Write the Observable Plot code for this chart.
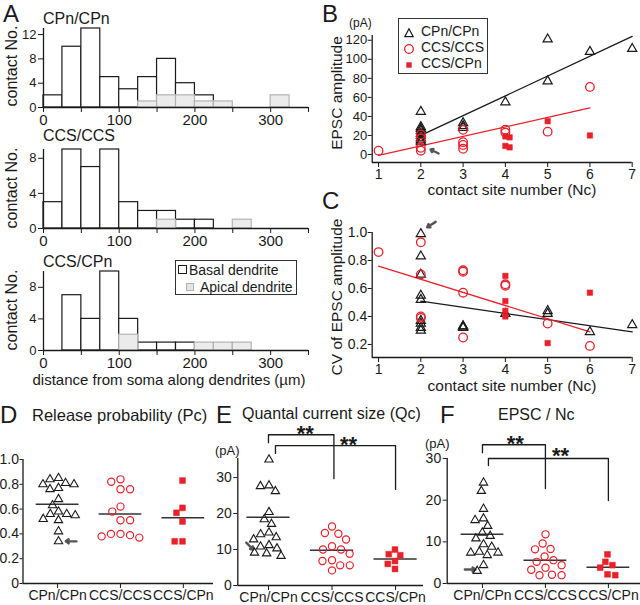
<!DOCTYPE html>
<html><head><meta charset="utf-8">
<script src="https://cdn.jsdelivr.net/npm/d3@7"></script>
<script src="https://cdn.jsdelivr.net/npm/@observablehq/plot@0.6"></script>
<style>
html,body{margin:0;padding:0;background:#fff;}
#fig{position:relative;width:640px;height:605px;overflow:hidden;font-family:"Liberation Sans",Arial,Helvetica,sans-serif;color:#1a1a1a;}
.layer{position:absolute;}
.layer svg{overflow:visible;}
.t{position:absolute;white-space:nowrap;line-height:1;}
.box{position:absolute;border:1px solid #333;box-sizing:border-box;background:#fff;}
</style></head><body><div id="fig"></div>
<script>
// ================= DATA =================
// Panel A: histograms of contact distance (25 µm bins)
const binStart = [0,25,50,75,100,125,150,175,200,225,250,275,300,325];
const binWidth = 25;
const histNames = ["CPn/CPn","CCS/CCS","CCS/CPn"];
const basalCPnCPn  = [2,10,13,5,3,5,8,4,2,0,0,0,0,0];
const apicalCPnCPn = [0,0,0,0,0,1,2,2,1,1,0,0,2,0];
const basalCCSCCS  = [3,9,7,9,3,2,2,1,1,0,0,0,0,0];
const apicalCCSCCS = [0,0,0,0,0,0,1,0,0,0,1,0,0,0];
const basalCCSCPn  = [0,7,4,10,4,1,1,1,0,0,0,0,0,0];
const apicalCCSCPn = [0,0,0,0,2,0,0,0,1,1,1,0,0,0];
const histXTicks = [0,50,100,150,200,250,300,350];
const histYTicks = [[0,4,8,12],[0,4,8],[0,4,8]];
const legendA = ["Basal dendrite","Apical dendrite"];

// Panel B: EPSC amplitude vs contact site number
const ncCPn    = [2,2,2,2,2,2,2,2,2,3,3,3,4,5,5,6,7];
const epscCPn  = [45,29,27,25,22,20,17,15,13,33,30,28,55,121,77,108,111];
const ncCCS    = [1,2,2,2,2,3,3,3,3,4,4,5,6];
const epscCCS  = [4,21,17,7,4,26,13,10,6,26,23,24,71];
const ncCCSCPnB   = [4,4.1,4,4.1,5,6];
const epscCCSCPn  = [19,18,9,7.5,35,20];
const fitEpscCPn  = [[2,20],[7,124]];
const fitEpscCCS  = [[1,-1],[6,49]];
const ticksB = [0,20,40,60,80,100,120];
const ncTicks = [1,2,3,4,5,6,7];
const legendB = ["CPn/CPn","CCS/CCS","CCS/CPn"];

// Panel C: CV of EPSC amplitude
const ncCPnC   = [2,2,2,2,2,2,2,2,2,3,3,3,4,5,5,6,7];
const cvCPn    = [0.99,0.83,0.70,0.55,0.52,0.37,0.35,0.32,0.30,0.33,0.32,0.33,0.42,0.44,0.42,0.29,0.34];
const ncCCSC   = [1,2,2,2,2,3,3,3,3,4,4,5,6];
const cvCCS    = [0.86,0.93,0.70,0.40,0.39,0.73,0.72,0.57,0.25,0.63,0.62,0.35,0.19];
const ncCCSCPnC = [4,4,4,4,5,6];
const cvCCSCPn  = [0.69,0.51,0.44,0.40,0.21,0.57];
const fitCvCPn  = [[2,0.51],[7,0.29]];
const fitCvCCS  = [[1,0.76],[6,0.29]];
const ticksC = [0.2,0.4,0.6,0.8,1.0];

// Panels D–F: per-pair values
const groups = ["CPn/CPn","CCS/CCS","CCS/CPn"];
const pcCPn    = [0.85,0.84,0.81,0.80,0.80,0.77,0.76,0.68,0.63,0.58,0.56,0.56,0.55,0.52,0.51,0.42,0.34];
const pcCCS    = [0.84,0.82,0.76,0.76,0.62,0.58,0.51,0.51,0.40,0.40,0.39,0.38,0.37];
const pcCCSCPn = [0.83,0.61,0.57,0.50,0.34,0.34];
const meanPc   = [0.64,0.56,0.53];
const qcCPn    = [35,27.8,27.6,26.2,20.4,18.4,17.1,14.7,14.2,13.4,12.8,11.2,10.8,10.3,9.1,8.9,8.2];
const qcCCS    = [16.4,14.6,14.4,12.8,10.9,10.0,10.0,8.8,7.0,6.8,5.6,5.6,4.2];
const qcCCSCPn = [10.0,8.7,8.4,6.8,6.0,4.6];
const meanQc   = [19.0,9.8,7.4];
const fCPn     = [24.2,22.2,17.9,15.6,15.2,13.8,12.2,11.4,10.8,9.4,8.8,7.6,7.4,7.4,6.8,4.4,3.0];
const fCCS     = [11.8,9.6,8.3,8.2,6.5,5.6,5.2,4.4,3.8,3.3,2.1,2.0,2.0];
const fCCSCPn  = [7.0,5.2,4.4,3.8,2.2,2.0];
const meanF    = [11.8,5.6,3.9];
const ticksD = [0,0.2,0.4,0.6,0.8,1.0];
const ticksEF = [0,10,20,30];
// significance brackets (x in group index units, y in data units)
const sigE = [{id:1,a:0,b:1.03,top:41.9,endA:39.7,endB:29.7,lx:0.58,ly:43.8,label:"**"},
              {id:2,a:0.11,b:2,top:38.9,endA:36.7,endB:26.7,lx:1.26,ly:40.6,label:"**"}];
const sigF = [{id:1,a:0,b:1,top:33.3,endA:31.4,endB:22.8,lx:0.52,ly:34.9,label:"**"},
              {id:2,a:0.095,b:2,top:30.0,endA:28.3,endB:19.9,lx:1.24,ly:32.0,label:"**"}];
// arrow annotations (tail -> head)
const arrowB = [{x1:2.42,y1:1.1,x2:2.23,y2:5.3}];
const arrowC = [{x1:2.35,y1:1.076,x2:2.15,y2:1.038}];
const arrowD = [{x1:0.30,y1:0.34,x2:0.13,y2:0.34}];
const arrowE = [{x1:-0.35,y1:11.9,x2:-0.24,y2:10.0}];
const arrowF = [{x1:-0.28,y1:3.36,x2:-0.11,y2:3.36}];

// ================= STYLE =================
const FONT = '"Liberation Sans", Arial, Helvetica, sans-serif';
const INK = "#1a1a1a";
const RED = "#e8202a";
const GREY = "#555";
const fig = document.getElementById("fig");
const baseStyle = {fontFamily: FONT, fontSize: "14px", color: INK, background: "transparent", overflow: "visible"};

function addPlot(svg, left, top) {
  const d = document.createElement("div");
  d.className = "layer"; d.style.left = left + "px"; d.style.top = top + "px";
  d.appendChild(svg); fig.appendChild(d);
}
function label(text, x, y, size, opt = {}) {
  const d = document.createElement("div");
  d.className = "t"; d.textContent = text;
  d.style.left = x + "px"; d.style.top = y + "px"; d.style.fontSize = size + "px";
  if (opt.weight) d.style.fontWeight = opt.weight;
  const tx = opt.anchor === "middle" ? "-50%" : opt.anchor === "end" ? "-100%" : "0";
  d.style.transform = `translate(${tx},-50%)` + (opt.rotate ? ` rotate(${opt.rotate}deg)` : "");
  fig.appendChild(d);
  return d;
}

// ================= PANEL A =================
const histData = [
  [basalCPnCPn, apicalCPnCPn],
  [basalCCSCCS, apicalCCSCCS],
  [basalCCSCPn, apicalCCSCPn]
];
const histTops = [0, 121, 243];
histData.forEach(([basal, apical], k) => {
  const rows = binStart.map((s, i) => ({x1: s, x2: s + binWidth, basal: basal[i], apical: apical[i]}));
  const ymax = d3.max(rows, d => Math.max(d.basal, d.apical));
  const svg = Plot.plot({
    width: 330, height: 125, marginLeft: 43, marginRight: 22, marginTop: 28, marginBottom: 18,
    x: {domain: [0, 350]}, y: {domain: [0, ymax]},
    style: baseStyle,
    marks: [
      Plot.rect(rows.filter(d => d.basal > 0), {x1: "x1", x2: "x2", y1: 0, y2: "basal", fill: "white", stroke: INK, strokeWidth: 1.2}),
      Plot.rect(rows.filter(d => d.apical > 0), {x1: "x1", x2: "x2", y1: 0, y2: "apical", fill: "#ebebeb", stroke: "#b3b3b3", strokeWidth: 1.2}),
      Plot.ruleY([0], {stroke: INK, strokeWidth: 1.3}),
      Plot.ruleX([0], {stroke: INK, strokeWidth: 1.3}),
      Plot.axisX({ticks: histXTicks, tickFormat: d => d % 100 === 0 ? String(d) : "", tickSize: 5, tickPadding: 2, fontSize: 15, label: null}),
      Plot.axisY({ticks: histYTicks[k], tickSize: 5, tickPadding: 2, fontSize: 13, label: null})
    ]
  });
  addPlot(svg, 0, histTops[k]);
});
label("A", 3, 14, 24);
label(histNames[0], 43, 19, 16);
label(histNames[1], 43, 136, 16);
label(histNames[2], 43, 262, 16);
[66, 188, 310].forEach(cy => label("contact No.", 12, cy, 16, {anchor: "middle", rotate: -90}));
label("distance from soma along dendrites (µm)", 169, 379, 15, {anchor: "middle"});
// legend A
{
  const box = document.createElement("div");
  box.className = "box";
  Object.assign(box.style, {left: "175px", top: "260px", width: "122px", height: "35px"});
  fig.appendChild(box);
  const s1 = document.createElement("div");
  Object.assign(s1.style, {position: "absolute", left: "178px", top: "265px", width: "9px", height: "9px", border: "1.2px solid " + INK, boxSizing: "border-box", background: "#fff"});
  fig.appendChild(s1);
  const s2 = document.createElement("div");
  Object.assign(s2.style, {position: "absolute", left: "186px", top: "283px", width: "8px", height: "8px", border: "1px solid #b3b3b3", boxSizing: "border-box", background: "#e4e4e4"});
  fig.appendChild(s2);
  label(legendA[0], 189, 270, 14);
  label(legendA[1], 200, 287, 14);
}

// ================= PANEL B & C =================
function scatterPanel({top, mT, mB, yDomain, yTicks, yFmt, yFont, cpn, ccs, mix, fitA, fitB, arrow}) {
  const xDomain = [0.85, 7];
  const svg = Plot.plot({
    width: 310, height: 200, marginLeft: 41.7, marginRight: 8.3, marginTop: mT, marginBottom: mB,
    x: {domain: xDomain}, y: {domain: yDomain},
    style: baseStyle,
    marks: [
      Plot.ruleX([xDomain[0]], {stroke: INK, strokeWidth: 1.3}),
      Plot.ruleY([yDomain[0]], {stroke: INK, strokeWidth: 1.3}),
      Plot.axisX({ticks: ncTicks, tickFormat: d => String(d), tickSize: 5, tickPadding: 2, fontSize: 14, label: null}),
      Plot.axisY({ticks: yTicks, tickFormat: yFmt, tickSize: 4, tickPadding: 1, fontSize: yFont, label: null}),
      Plot.line(fitA, {x: d => d[0], y: d => d[1], stroke: INK, strokeWidth: 1.3}),
      Plot.line(fitB, {x: d => d[0], y: d => d[1], stroke: RED, strokeWidth: 1.3}),
      Plot.dot(cpn, {x: "x", y: "y", symbol: "triangle", r: 3.4, stroke: INK, fill: "none", strokeWidth: 1.2}),
      Plot.dot(ccs, {x: "x", y: "y", symbol: "circle", r: 4.3, stroke: RED, fill: "none", strokeWidth: 1.3}),
      Plot.dot(mix, {x: "x", y: "y", symbol: "square", r: 3.1, fill: RED, stroke: RED, strokeWidth: 0.5}),
      Plot.arrow(arrow, {x1: "x1", y1: "y1", x2: "x2", y2: "y2", stroke: GREY, strokeWidth: 2.4, headLength: 6, headAngle: 70})
    ]
  });
  addPlot(svg, 330, top);
}
const zipXY = (xs, ys) => xs.map((x, i) => ({x, y: ys[i]}));
scatterPanel({top: 0, mT: 35, mB: 38, yDomain: [-8.4, 125], yTicks: ticksB, yFmt: d => String(d), yFont: 13,
  cpn: zipXY(ncCPn, epscCPn), ccs: zipXY(ncCCS, epscCCS), mix: zipXY(ncCCSCPnB, epscCCSCPn),
  fitA: fitEpscCPn, fitB: fitEpscCCS, arrow: arrowB});
scatterPanel({top: 200, mT: 32, mB: 43, yDomain: [0.107, 1.0], yTicks: ticksC, yFmt: d => d.toFixed(1), yFont: 14,
  cpn: zipXY(ncCPnC, cvCPn), ccs: zipXY(ncCCSC, cvCCS), mix: zipXY(ncCCSCPnC, cvCCSCPn),
  fitA: fitCvCPn, fitB: fitCvCCS, arrow: arrowC});
label("B", 322, 14, 24);
label("C", 322, 201, 24);
label("(pA)", 349, 23, 12);
label("EPSC amplitude", 337, 93, 15.5, {anchor: "middle", rotate: -90});
label("CV of EPSC amplitude", 337, 297, 15.5, {anchor: "middle", rotate: -90});
label("contact site number (Nc)", 512, 190, 15.5, {anchor: "middle"});
label("contact site number (Nc)", 512, 386, 15.5, {anchor: "middle"});
// legend B
{
  const box = document.createElement("div");
  box.className = "box";
  Object.assign(box.style, {left: "398px", top: "18px", width: "90px", height: "56px", border: "1.2px solid #333"});
  fig.appendChild(box);
  const icons = [
    `<polygon points="6,1.8 10.2,9.6 1.8,9.6" fill="none" stroke="${INK}" stroke-width="1.2"/>`,
    `<circle cx="6" cy="6" r="4.3" fill="none" stroke="${RED}" stroke-width="1.3"/>`,
    `<rect x="3.3" y="3.3" width="5.4" height="5.4" fill="${RED}"/>`
  ];
  const ys = [30.5, 46.7, 63.3];
  icons.forEach((ic, i) => {
    const d = document.createElement("div");
    Object.assign(d.style, {position: "absolute", left: "403px", top: (ys[i] - 6) + "px", width: "12px", height: "12px"});
    d.innerHTML = `<svg width="12" height="12" viewBox="0 0 12 12">${ic}</svg>`;
    fig.appendChild(d);
    label(legendB[i], 421, ys[i], 14);
  });
}

// ================= PANELS D, E, F =================
function catPanel({left, width, mL, mR, mT, mB, xDomain, yDomain, yTicks, yFmt, vals, means, sig, arrow, yTickSize = 4, yTickPad = 2}) {
  const height = 205, top = 400;
  const meanRows = groups.map((g, i) => ({i, m: means[i]}));
  const marks = [
    Plot.ruleY([yDomain[0]], {stroke: INK, strokeWidth: 1.3}),
    Plot.ruleX([xDomain[0]], {stroke: INK, strokeWidth: 1.3}),
    Plot.axisY({ticks: yTicks, tickFormat: yFmt, tickSize: yTickSize, tickPadding: yTickPad, fontSize: 14, label: null}),
    Plot.axisX({ticks: [0, 1, 2], tickFormat: i => groups[i], tickSize: 5, tickPadding: 2, fontSize: 14, label: null}),
    Plot.ruleY(meanRows, {x1: d => d.i - 0.34, x2: d => d.i + 0.34, y: "m", stroke: "#333", strokeWidth: 1.5}),
    Plot.arrow(arrow, {x1: "x1", y1: "y1", x2: "x2", y2: "y2", stroke: GREY, strokeWidth: 2.4, headLength: 6, headAngle: 70})
  ];
  if (sig) {
    const pts = sig.flatMap(s => [
      {id: s.id, x: s.a, y: s.endA}, {id: s.id, x: s.a, y: s.top},
      {id: s.id, x: s.b, y: s.top}, {id: s.id, x: s.b, y: s.endB}
    ]);
    marks.push(Plot.line(pts, {x: "x", y: "y", z: "id", stroke: INK, strokeWidth: 1.3}));
    marks.push(Plot.text(sig, {x: "lx", y: "ly", text: "label", fontSize: 22, fontWeight: "bold", dy: 6, fill: INK}));
  }
  const base = Plot.plot({
    width, height, marginLeft: mL, marginRight: mR, marginTop: mT, marginBottom: mB,
    x: {domain: xDomain}, y: {domain: yDomain}, style: baseStyle, marks
  });
  addPlot(base, left, top);
  // dots layer, faceted by group so that dodge positions them in each band
  const unit = (width - mL - mR) / (xDomain[1] - xDomain[0]);
  const mL2 = mL + (-0.5 - xDomain[0]) * unit;
  const mR2 = width - (mL + (2.5 - xDomain[0]) * unit);
  const rowsOf = i => vals[i].map(v => ({group: groups[i], v}));
  const dots = Plot.plot({
    width, height, marginLeft: mL2, marginRight: mR2, marginTop: mT, marginBottom: mB,
    fx: {domain: groups, padding: 0, axis: null}, y: {domain: yDomain, axis: null},
    style: baseStyle,
    marks: [
      Plot.dot(rowsOf(0), Plot.dodgeX({anchor: "middle", padding: 2.4, fx: "group", y: "v", r: 3.1, symbol: "triangle", stroke: INK, fill: "none", strokeWidth: 1.1})),
      Plot.dot(rowsOf(1), Plot.dodgeX({anchor: "middle", padding: 2.4, fx: "group", y: "v", r: 3.6, symbol: "circle", stroke: RED, fill: "none", strokeWidth: 1.2})),
      Plot.dot(rowsOf(2), Plot.dodgeX({anchor: "middle", padding: 1.2, fx: "group", y: "v", r: 3.3, symbol: "square", stroke: RED, fill: RED, strokeWidth: 0.5}))
    ]
  });
  addPlot(dots, left, top);
}
catPanel({left: 0, width: 215, mL: 22.5, mR: 2, mT: 59, mB: 22, xDomain: [-0.55, 2.48], yDomain: [0, 1],
  yTicks: ticksD, yFmt: d => d === 0 ? "0" : d.toFixed(1), vals: [pcCPn, pcCCS, pcCCSCPn], means: meanPc, sig: null, arrow: arrowD,
  yTickSize: 3, yTickPad: 1});
catPanel({left: 205, width: 225, mL: 32.3, mR: 7, mT: 58, mB: 20, xDomain: [-0.483, 2.44], yDomain: [0, 35.3],
  yTicks: ticksEF, yFmt: d => String(d), vals: [qcCPn, qcCCS, qcCCSCPn], means: meanQc, sig: sigE, arrow: arrowE});
catPanel({left: 420, width: 220, mL: 26.7, mR: 0, mT: 58, mB: 22, xDomain: [-0.56, 2.51], yDomain: [0, 30],
  yTicks: ticksEF, yFmt: d => String(d), vals: [fCPn, fCCS, fCCSCPn], means: meanF, sig: sigF, arrow: arrowF});
label("D", 0, 415, 24);
label("E", 216, 415, 24);
label("F", 440, 415, 24);
label("Release probability (Pc)", 32, 415, 16.5);
label("Quantal current size (Qc)", 242, 414, 16);
label("EPSC / Nc", 498, 415, 16);
label("(pA)", 215, 450, 13);
label("(pA)", 425, 443, 13);
</script></body></html>
